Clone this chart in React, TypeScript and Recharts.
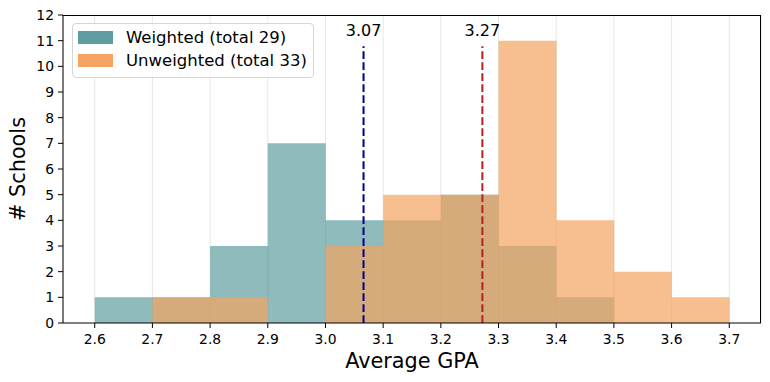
import { ComposedChart, Bar, XAxis, YAxis, CartesianGrid, ReferenceLine, Legend } from 'recharts'

// histogram bins: left edges, 0.1 wide
const binEdges = [2.6, 2.7, 2.8, 2.9, 3.0, 3.1, 3.2, 3.3, 3.4, 3.5, 3.6, 3.7]
const weightedCounts = [1, 1, 3, 7, 4, 4, 5, 3, 1, 0, 0]
const unweightedCounts = [0, 1, 1, 0, 3, 5, 5, 11, 4, 2, 1]
const seriesNames = ['Weighted (total 29)', 'Unweighted (total 33)']
const xTicks = [2.6, 2.7, 2.8, 2.9, 3.0, 3.1, 3.2, 3.3, 3.4, 3.5, 3.6, 3.7]
const yTicks = [0, 1, 2, 3, 4, 5, 6, 7, 8, 9, 10, 11, 12]
const weightedMean = 3.066
const unweightedMean = 3.272
const meanLineTop = 10.78
const xDomain = [2.545, 3.755]
const yDomain = [0, 12]

const data = weightedCounts.map((w, i) => ({
  gpa: (binEdges[i] + binEdges[i + 1]) / 2,
  weighted: w,
  unweighted: unweightedCounts[i],
}))

const FONT = 'DejaVu Sans, sans-serif'
const tickStyle = { fontSize: 13.9, fill: '#000', fontFamily: FONT }
const margin = { top: 15, right: 9, bottom: 0, left: 0 }
const yAxisWidth = 63
const xAxisHeight = 59
const W = 770
const H = 382

function LegendBox({ payload }: any) {
  const items = [...(payload || [])].sort((a: any, b: any) => seriesNames.indexOf(a.value) - seriesNames.indexOf(b.value))
  return (
    <div style={{
      border: '1px solid #d6d6d6', borderRadius: 4, background: 'rgba(255,255,255,0.8)',
      padding: '2px 6px 5px 5px', fontFamily: FONT, fontSize: 16.5, color: '#000',
    }}>
      {items.map((p: any) => (
        <div key={p.value} style={{ display: 'flex', alignItems: 'center', height: 23 }}>
          <span style={{ width: 35, height: 13, background: p.color, marginRight: 13, display: 'inline-block' }} />
          <span style={{ whiteSpace: 'nowrap' }}>{p.value}</span>
        </div>
      ))}
    </div>
  )
}

export default function App() {
  return (
    <div style={{ position: 'absolute', left: 0, top: 0, width: W, height: H, fontFamily: FONT }}>
      <ComposedChart width={W} height={H} data={data} barCategoryGap={0} barGap={0} margin={margin}>
        <CartesianGrid horizontal={false} stroke="#b0b0b0" strokeOpacity={0.3} xAxisId="w" />
        <XAxis xAxisId="w" dataKey="gpa" type="number" domain={xDomain} ticks={xTicks} interval={0}
          allowDataOverflow tickFormatter={(v) => Number(v).toFixed(1)} tick={tickStyle}
          tickSize={5} tickMargin={6} height={xAxisHeight} stroke="#000"
          label={{ value: 'Average GPA', position: 'insideBottom', offset: 14, fontSize: 20.8, fill: '#000', fontFamily: FONT }} />
        {/* second x axis lets the two histograms overlap */}
        <XAxis xAxisId="u" dataKey="gpa" type="number" domain={xDomain} orientation="top"
          allowDataOverflow hide />
        <YAxis domain={yDomain} ticks={yTicks} interval={0} tick={tickStyle} tickSize={5} tickMargin={4}
          width={yAxisWidth} stroke="#000"
          label={{ value: '# Schools', angle: -90, position: 'insideLeft', offset: 18, fontSize: 20.8, fill: '#000', fontFamily: FONT, style: { textAnchor: 'middle' } }} />
        <Legend layout="vertical" align="center" verticalAlign="middle" content={<LegendBox />}
          wrapperStyle={{ left: 72, top: 23, width: 'auto' }} />
        <Bar xAxisId="w" dataKey="weighted" name={seriesNames[0]} fill="#5f9ea0" fillOpacity={0.7}
          isAnimationActive={false} />
        <Bar xAxisId="u" dataKey="unweighted" name={seriesNames[1]} fill="#f4a460" fillOpacity={0.7}
          isAnimationActive={false} />
        <ReferenceLine xAxisId="w" segment={[{ x: weightedMean, y: 0 }, { x: weightedMean, y: meanLineTop }]}
          stroke="#00008b" strokeWidth={2} strokeDasharray="7.7 3.3"
          label={{ value: weightedMean.toFixed(2), position: 'top', offset: 10, fontSize: 16, fill: '#000', fontFamily: FONT }} />
        <ReferenceLine xAxisId="w" segment={[{ x: unweightedMean, y: 0 }, { x: unweightedMean, y: meanLineTop }]}
          stroke="#b22222" strokeWidth={2} strokeDasharray="7.7 3.3"
          label={{ value: unweightedMean.toFixed(2), position: 'top', offset: 10, fontSize: 16, fill: '#000', fontFamily: FONT }} />
      </ComposedChart>
      {/* top and right spines of the plot frame */}
      <div style={{
        position: 'absolute', pointerEvents: 'none', boxSizing: 'border-box',
        left: margin.left + yAxisWidth, top: margin.top,
        width: W - margin.left - margin.right - yAxisWidth,
        height: H - margin.top - margin.bottom - xAxisHeight,
        borderTop: '1px solid #000', borderRight: '1px solid #000',
      }} />
    </div>
  )
}
